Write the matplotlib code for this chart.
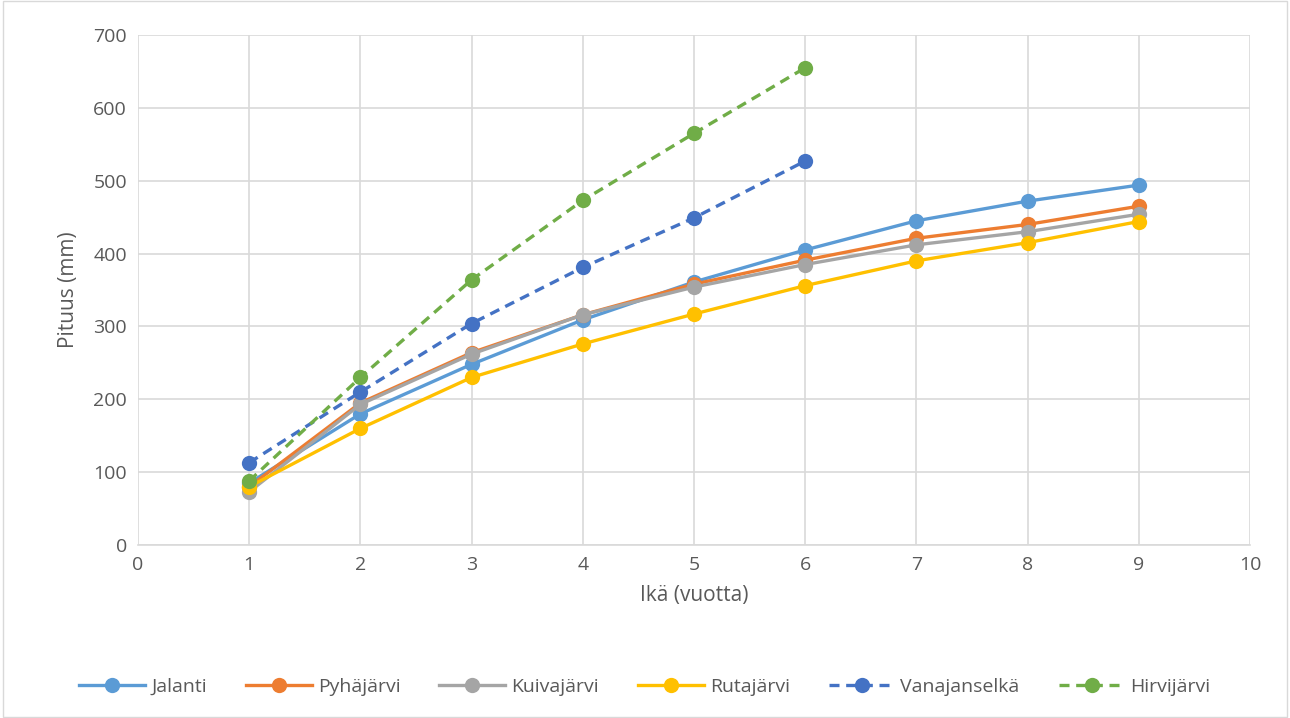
import matplotlib
import matplotlib.pyplot as plt

matplotlib.use("Agg")

plt.rcParams["font.family"] = ["Open Sans", "DejaVu Sans"]

# --- data ---
ages_long = [1, 2, 3, 4, 5, 6, 7, 8, 9]
ages_short = [1, 2, 3, 4, 5, 6]

jalanti = [85, 180, 248, 309, 361, 405, 445, 472, 494]
pyhajarvi = [80, 195, 264, 316, 358, 391, 421, 440, 465]
kuivajarvi = [73, 193, 262, 316, 354, 385, 412, 430, 454]
rutajarvi = [80, 160, 230, 276, 317, 356, 390, 415, 444]
vanajanselka = [113, 210, 304, 381, 449, 527]
hirvijarvi = [88, 230, 364, 473, 565, 655]

x_ticks = list(range(0, 11))
y_ticks = list(range(0, 701, 100))

text_col = "#595959"
grid_col = "#d9d9d9"

fig = plt.figure(figsize=(12.9, 7.18), dpi=100)
ax = fig.add_axes([138 / 1290, 1 - 545 / 718, (1250 - 138) / 1290, (545 - 35) / 718])

# thin outer border like the Excel chart area
fig.patches.append(plt.Rectangle((0.002, 0.002), 0.996, 0.996, transform=fig.transFigure,
                                 fill=False, edgecolor="#d9d9d9", linewidth=1))

lw = 2.4
ms = 11
series = [
    ("Jalanti", ages_long, jalanti, "#5B9BD5", "-"),
    ("Pyhäjärvi", ages_long, pyhajarvi, "#ED7D31", "-"),
    ("Kuivajärvi", ages_long, kuivajarvi, "#A5A5A5", "-"),
    ("Rutajärvi", ages_long, rutajarvi, "#FFC000", "-"),
    ("Vanajanselkä", ages_short, vanajanselka, "#4472C4", (0, (3, 2))),
    ("Hirvijärvi", ages_short, hirvijarvi, "#70AD47", (0, (3, 2))),
]
for name, xs, ys, col, ls in series:
    ax.plot(xs, ys, color=col, linestyle=ls, linewidth=lw, marker="o",
            markersize=ms, markeredgewidth=0, label=name)

ax.set_xlim(0, 10)
ax.set_ylim(0, 700)
ax.set_xticks(x_ticks)
ax.set_yticks(y_ticks)
ax.grid(True, color=grid_col, linewidth=1.2)
ax.set_axisbelow(True)
for side in ["top", "right", "left"]:
    ax.spines[side].set_visible(False)
ax.spines["bottom"].set_color(grid_col)
ax.spines["bottom"].set_linewidth(1.2)
ax.tick_params(length=0, labelsize=14, colors=text_col, pad=8)

ax.set_xlabel("Ikä (vuotta)", fontsize=15, color=text_col, labelpad=8)
ax.set_ylabel("Pituus (mm)", fontsize=15, color=text_col, labelpad=10)

fig.legend(loc="center", bbox_to_anchor=(0.5, 1 - 687 / 718), ncol=6, frameon=False,
           fontsize=14, labelcolor=text_col, handlelength=3.4, columnspacing=2.0,
           handletextpad=0.3)

fig.savefig("out.png", dpi=100)
